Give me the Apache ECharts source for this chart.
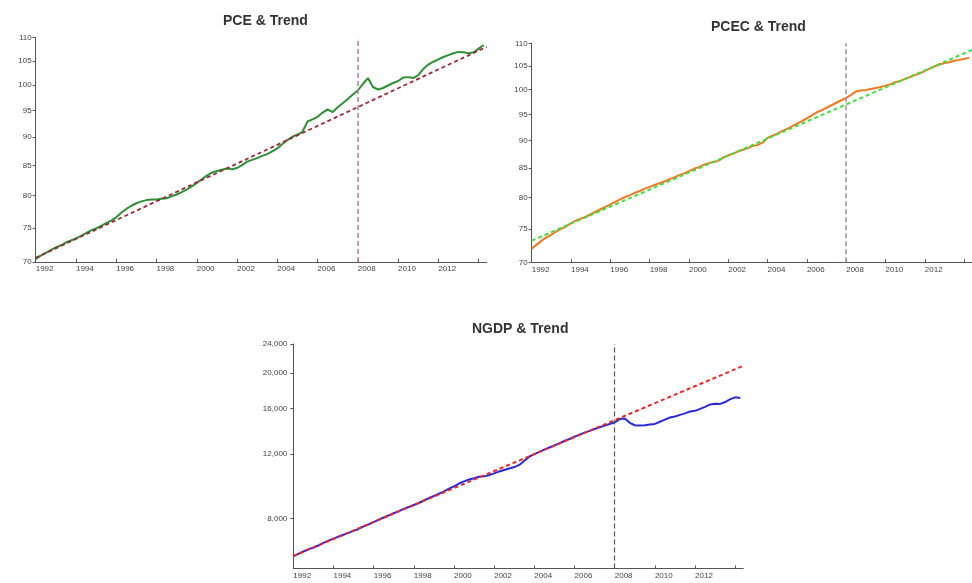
<!DOCTYPE html>
<html>
<head>
<meta charset="utf-8">
<title>PCE, PCEC and NGDP against trend</title>
<script src="https://cdn.jsdelivr.net/npm/echarts@6/dist/echarts.min.js"></script>
<style>
  html, body { margin: 0; padding: 0; background: #ffffff; }
  #chart { width: 972px; height: 583px; }
</style>
</head>
<body>
<div id="chart"></div>
<script>
// Quarterly observations starting 1992Q1
const startYear = 1992;

// PCE (index), quarterly
const pceValues = [
  70.4, 70.9, 71.3, 71.7,
  72.1, 72.4, 72.8, 73.1,
  73.4, 73.8, 74.2, 74.6,
  74.9, 75.3, 75.7, 76.1,
  76.6, 77.3, 77.9, 78.4,
  78.8, 79.1, 79.3, 79.4,
  79.4, 79.5, 79.6, 79.9,
  80.2, 80.6, 81.0, 81.5,
  82.1, 82.7, 83.3, 83.8,
  84.1, 84.3, 84.5, 84.4,
  84.6, 85.1, 85.7, 86.0,
  86.3, 86.7, 87.0, 87.5,
  88.0, 88.8, 89.5, 90.1,
  90.5, 91.0, 92.9, 93.3,
  93.8, 94.6, 95.2, 94.7,
  95.6, 96.4, 97.2, 98.1,
  98.9, 100.2, 101.4, 99.6,
  99.1, 99.4, 99.9, 100.4,
  100.8, 101.5, 101.6, 101.4,
  102.0, 103.3, 104.2, 104.8,
  105.3, 105.8, 106.2, 106.6,
  106.9, 106.8, 106.6, 106.8,
  107.6, 108.4
];

// PCEC (index), quarterly
const pcecValues = [
  72.0, 72.6, 73.2, 73.7,
  74.1, 74.6, 75.0, 75.4,
  75.9, 76.3, 76.6, 76.9,
  77.3, 77.7, 78.1, 78.5,
  78.9, 79.3, 79.7, 80.1,
  80.4, 80.8, 81.1, 81.5,
  81.8, 82.1, 82.4, 82.7,
  83.1, 83.4, 83.8, 84.1,
  84.5, 84.9, 85.2, 85.6,
  85.9, 86.1, 86.3, 86.9,
  87.3, 87.6, 88.0, 88.3,
  88.6, 89.0, 89.2, 89.6,
  90.5, 90.9, 91.3, 91.8,
  92.2, 92.7, 93.2, 93.7,
  94.2, 94.8, 95.4, 95.8,
  96.3, 96.8, 97.3, 97.8,
  98.3, 98.9, 99.6, 99.8,
  99.9, 100.1, 100.3, 100.5,
  100.8, 101.1, 101.5, 101.8,
  102.2, 102.6, 103.0, 103.4,
  103.9, 104.4, 104.9, 105.3,
  105.6, 105.8, 106.1, 106.3,
  106.5, 106.8
];

// Nominal GDP (billions of dollars), quarterly
const ngdpValues = [
  6290, 6390, 6490, 6580,
  6650, 6740, 6850, 6950,
  7040, 7130, 7210, 7300,
  7390, 7480, 7600, 7700,
  7810, 7930, 8040, 8150,
  8260, 8370, 8490, 8590,
  8700, 8810, 8950, 9090,
  9210, 9340, 9480, 9650,
  9780, 9960, 10100, 10220,
  10300, 10400, 10420, 10500,
  10620, 10750, 10850, 10950,
  11050, 11200, 11500, 11800,
  11990, 12160, 12330, 12500,
  12670, 12840, 13020, 13190,
  13380, 13560, 13730, 13880,
  14050, 14200, 14350, 14500,
  14650, 14950, 15000, 14600,
  14380, 14350, 14380, 14450,
  14500, 14700, 14900, 15100,
  15200, 15350, 15500, 15680,
  15750, 15950, 16150, 16400,
  16480, 16450, 16650, 16950,
  17150, 17080
];

// Log-linear trends: values at the start and end years
const trendYears = [1992, 2014.4];
const pceTrend = [70.6, 108.0];
const pcecTrend = [73.2, 108.5];
const ngdpTrend = [6310, 20920];

// Break date marked on every panel
const breakYear = 2008;

// Axis ticks
const yearTicks = [1992, 1994, 1996, 1998, 2000, 2002, 2004, 2006, 2008, 2010, 2012, 2014];
const indexTicks = [70, 75, 80, 85, 90, 95, 100, 105, 110];
const ngdpTicks = [8000, 12000, 16000, 20000, 24000];

const titles = ['PCE & Trend', 'PCEC & Trend', 'NGDP & Trend'];

function quarterly(values) {
  return values.map((v, i) => [startYear + i / 4, v]);
}
function trendLine(ends) {
  return trendYears.map((y, i) => [y, ends[i]]);
}

const FONT = 'Liberation Sans, Arial, sans-serif';
const axisColor = '#555555';
const labelColor = '#444444';

const grids = [
  { left: 35.7, width: 451, top: 37.7, height: 224.3 },
  { left: 531.7, width: 449.8, top: 43.3, height: 219 },
  { left: 293.3, width: 450, top: 344, height: 224.5 }
];

function xAxisFor(gi) {
  return {
    type: 'value', gridIndex: gi, min: 1992, max: 2014.4, interval: 2,
    axisLine: { show: true, onZero: false, lineStyle: { color: axisColor, width: 1 } },
    axisTick: { show: true, length: 3, inside: true, lineStyle: { color: axisColor }, customValues: yearTicks },
    axisLabel: {
      customValues: yearTicks.slice(0, -1),
      align: 'left', margin: 3, fontSize: 8, color: labelColor, fontFamily: FONT,
      formatter: v => String(Math.round(v))
    },
    splitLine: { show: false }
  };
}

function yAxisFor(gi, min, max, ticks, fmt, margin) {
  return {
    type: 'log', logBase: 10, gridIndex: gi, min: min, max: max,
    axisLine: { show: true, lineStyle: { color: axisColor, width: 1 } },
    axisTick: { show: true, length: 3, lineStyle: { color: axisColor }, customValues: ticks },
    axisLabel: {
      customValues: ticks, margin: margin, fontSize: 8, color: labelColor, fontFamily: FONT,
      formatter: fmt
    },
    splitLine: { show: false }
  };
}

function breakMark(color, width) {
  return {
    silent: true, symbol: ['none', 'none'],
    label: { show: false },
    lineStyle: { color: color, type: [5, 3], width: width },
    data: [{ xAxis: breakYear }]
  };
}

const titleStyle = { fontSize: 14, fontWeight: 'bold', color: '#333', fontFamily: FONT };

const option = {
  animation: false,
  backgroundColor: '#ffffff',
  title: [
    { text: titles[0], left: 218, top: 9, textStyle: titleStyle },
    { text: titles[1], left: 706, top: 15, textStyle: titleStyle },
    { text: titles[2], left: 467, top: 317, textStyle: titleStyle }
  ],
  grid: grids,
  xAxis: [xAxisFor(0), xAxisFor(1), xAxisFor(2)],
  yAxis: [
    yAxisFor(0, 70, 110, indexTicks, v => String(Math.round(v)), 4),
    yAxisFor(1, 70, 110, indexTicks, v => String(Math.round(v)), 4),
    yAxisFor(2, 5830, 24000, ngdpTicks, v => Math.round(v).toLocaleString('en-US'), 6)
  ],
  series: [
    {
      name: 'PCE trend', type: 'line', xAxisIndex: 0, yAxisIndex: 0,
      data: trendLine(pceTrend), showSymbol: false, z: 3,
      lineStyle: { color: '#9b2a3a', width: 1.8, type: [4, 3] },
      markLine: breakMark('#b5808e', 1.5)
    },
    {
      name: 'PCE', type: 'line', xAxisIndex: 0, yAxisIndex: 0,
      data: quarterly(pceValues), showSymbol: false, z: 2,
      lineStyle: { color: '#2f8f35', width: 2 }
    },
    {
      name: 'PCEC', type: 'line', xAxisIndex: 1, yAxisIndex: 1,
      data: quarterly(pcecValues), showSymbol: false, z: 2,
      lineStyle: { color: '#f07a24', width: 2 },
      markLine: breakMark('#a88c9c', 1.5)
    },
    {
      name: 'PCEC trend', type: 'line', xAxisIndex: 1, yAxisIndex: 1,
      data: trendLine(pcecTrend), showSymbol: false, z: 3,
      lineStyle: { color: '#3fe03f', width: 2, type: [4, 3] }
    },
    {
      name: 'NGDP', type: 'line', xAxisIndex: 2, yAxisIndex: 2,
      data: quarterly(ngdpValues), showSymbol: false, z: 2,
      lineStyle: { color: '#2a2ad8', width: 2 },
      markLine: breakMark('#555555', 1.2)
    },
    {
      name: 'NGDP trend', type: 'line', xAxisIndex: 2, yAxisIndex: 2,
      data: trendLine(ngdpTrend), showSymbol: false, z: 3,
      lineStyle: { color: '#ee2626', width: 2, type: [4, 3] }
    }
  ]
};

const chart = echarts.init(document.getElementById('chart'), null, { renderer: 'canvas' });
chart.setOption(option);
</script>
</body>
</html>
